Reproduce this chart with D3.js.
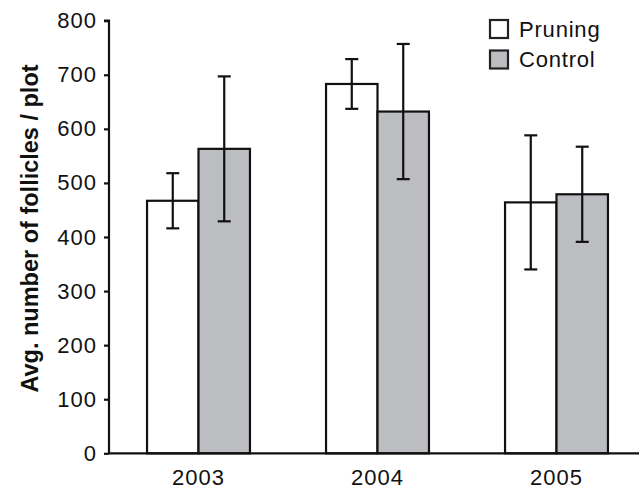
<!DOCTYPE html>
<html>
<head>
<meta charset="utf-8">
<script src="https://cdn.jsdelivr.net/npm/d3@7"></script>
<style>
  body { margin: 0; background: #fff; }
  text { font-family: "Liberation Sans", Arial, sans-serif; }
</style>
</head>
<body>
<svg width="639" height="490"></svg>
<script>
const years = ["2003", "2004", "2005"]
const series = ["Pruning", "Control"]
const pruning = [467, 683, 464]
const pruningErr = [51, 46, 124]
const control = [563, 632, 479]
const controlErr = [134, 125, 88]
const yTicks = [0, 100, 200, 300, 400, 500, 600, 700, 800]

const colors = { Pruning: "#ffffff", Control: "#bcbdc1" }

const svg = d3.select("svg")

const y = d3.scaleLinear()
  .domain([0, 800])
  .range([453.3, 20.7])

const x = d3.scaleBand()
  .domain(years)
  .range([109, 646])
  .paddingInner(0.425)
  .paddingOuter(0.2125)

const xInner = d3.scaleBand()
  .domain(series)
  .range([0, x.bandwidth()])

const rows = []
years.forEach((yr, i) => {
  rows.push({ year: yr, key: "Pruning", value: pruning[i], err: pruningErr[i] })
  rows.push({ year: yr, key: "Control", value: control[i], err: controlErr[i] })
})

// bars
svg.append("g")
  .selectAll("rect")
  .data(rows)
  .enter()
  .append("rect")
  .attr("x", d => x(d.year) + xInner(d.key))
  .attr("y", d => y(d.value))
  .attr("width", xInner.bandwidth())
  .attr("height", d => y(0) - y(d.value))
  .attr("fill", d => colors[d.key])
  .attr("stroke", "#111")
  .attr("stroke-width", 2.2)

// error bars
const errG = svg.append("g")
  .attr("stroke", "#111")
  .attr("stroke-width", 2.2)
  .selectAll("g")
  .data(rows)
  .enter()
  .append("g")
  .attr("transform", d => `translate(${x(d.year) + xInner(d.key) + xInner.bandwidth() / 2},0)`)

errG.append("line")
  .attr("y1", d => y(d.value + d.err))
  .attr("y2", d => y(d.value - d.err))
errG.append("line")
  .attr("x1", -6.5).attr("x2", 6.5)
  .attr("y1", d => y(d.value + d.err))
  .attr("y2", d => y(d.value + d.err))
errG.append("line")
  .attr("x1", -6.5).attr("x2", 6.5)
  .attr("y1", d => y(d.value - d.err))
  .attr("y2", d => y(d.value - d.err))

// y axis
const yAxis = svg.append("g")
  .attr("transform", "translate(109,0)")
  .call(d3.axisLeft(y).tickValues(yTicks).tickSize(5).tickPadding(7))
yAxis.select(".domain").attr("stroke", "#111").attr("stroke-width", 2.2)
  .attr("d", `M-5,${y(800)}H0V${y(0)}`)
yAxis.selectAll(".tick line").attr("stroke", "#111").attr("stroke-width", 2.2)
yAxis.selectAll(".tick text")
  .attr("font-size", 22)
  .attr("letter-spacing", 1)
  .attr("fill", "#111")

// x axis
const xAxis = svg.append("g")
  .attr("transform", `translate(0,${y(0)})`)
  .call(d3.axisBottom(x).tickSize(0).tickPadding(16))
xAxis.select(".domain").attr("stroke", "#111").attr("stroke-width", 2.2)
  .attr("d", "M109,0H639")
xAxis.selectAll(".tick text")
  .attr("font-size", 22)
  .attr("letter-spacing", 1)
  .attr("fill", "#111")

// y label
svg.append("text")
  .attr("transform", "translate(38,228.5) rotate(-90)")
  .attr("text-anchor", "middle")
  .attr("font-size", 23.5)
  .attr("font-weight", "bold")
  .attr("fill", "#111")
  .text("Avg. number of follicles / plot")

// legend
const legend = svg.append("g")
  .selectAll("g")
  .data(series)
  .enter()
  .append("g")
  .attr("transform", (d, i) => `translate(490,${20 + i * 30.5})`)

legend.append("rect")
  .attr("width", 18)
  .attr("height", 18)
  .attr("fill", d => colors[d])
  .attr("stroke", "#222")
  .attr("stroke-width", 2.2)

legend.append("text")
  .attr("x", 29)
  .attr("y", 16.5)
  .attr("font-size", 22)
  .attr("letter-spacing", 0.8)
  .attr("fill", "#111")
  .text(d => d)
</script>
</body>
</html>
